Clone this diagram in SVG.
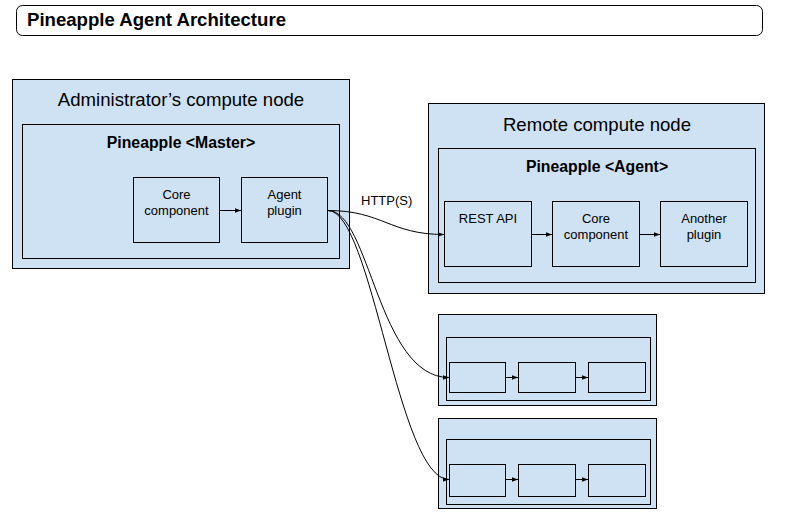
<svg xmlns="http://www.w3.org/2000/svg" width="786" height="521" viewBox="0 0 786 521">
<style>
.bg{fill:#ffffff}
.box{fill:#cfe2f3;stroke:#000000;stroke-width:1}
.title{fill:#ffffff;stroke:#000000;stroke-width:1}
.t{font-family:"Liberation Sans",Arial,sans-serif;fill:#000000;text-anchor:middle}
.big{font-size:18.6px}
.bold{font-size:15.8px;font-weight:bold}
.sm{font-size:13px}
.conn{fill:none;stroke:#000000;stroke-width:1}
</style>
<defs>
<marker id="ah" viewBox="0 0 6 6" refX="6" refY="3" markerWidth="6" markerHeight="6" markerUnits="userSpaceOnUse" orient="auto">
<path d="M0,0.8 L6,3 L0,5.2 Z" fill="#000000"/>
</marker>
</defs>
<rect class="bg" x="0" y="0" width="786" height="521"/>
<g id="title">
<rect class="title" x="16.5" y="5.5" width="746" height="30" rx="6" ry="6"/>
<text x="27" y="26" style="font-family:'Liberation Sans',Arial,sans-serif;font-size:18.6px;font-weight:bold" fill="#000000">Pineapple Agent Architecture</text>
</g>
<g id="admin-node">
<rect class="box" x="12.5" y="79.5" width="337" height="189"/>
<text class="t big" x="181" y="106">Administrator’s compute node</text>
</g>
<g id="master">
<rect class="box" x="22.5" y="124.5" width="317" height="134"/>
<text class="t bold" x="181" y="148">Pineapple &lt;Master&gt;</text>
</g>
<g id="master-core">
<rect class="box" x="133.5" y="177.5" width="86" height="65"/>
<text class="t sm" x="176.5" y="199">Core</text>
<text class="t sm" x="176.5" y="215">component</text>
</g>
<g id="agent-plugin">
<rect class="box" x="241.5" y="177.5" width="86" height="65"/>
<text class="t sm" x="284.5" y="199">Agent</text>
<text class="t sm" x="284.5" y="215">plugin</text>
</g>
<g id="remote-node">
<rect class="box" x="428.5" y="103.5" width="336" height="190"/>
<text class="t big" x="597" y="131">Remote compute node</text>
</g>
<g id="agent">
<rect class="box" x="438.5" y="148.5" width="317" height="134"/>
<text class="t bold" x="597" y="172">Pineapple &lt;Agent&gt;</text>
</g>
<g id="rest-api">
<rect class="box" x="444.5" y="201.5" width="87" height="65"/>
<text class="t sm" x="488" y="223">REST API</text>
</g>
<g id="agent-core">
<rect class="box" x="552.5" y="201.5" width="87" height="65"/>
<text class="t sm" x="596" y="223">Core</text>
<text class="t sm" x="596" y="239">component</text>
</g>
<g id="another-plugin">
<rect class="box" x="660.5" y="201.5" width="87" height="65"/>
<text class="t sm" x="704" y="223">Another</text>
<text class="t sm" x="704" y="239">plugin</text>
</g>
<g id="node2">
<rect class="box" x="438.5" y="314.5" width="218" height="91"/>
<rect class="box" x="446.5" y="337.5" width="204" height="63"/>
<rect class="box" x="449.5" y="362.5" width="56" height="30"/>
<rect class="box" x="518.5" y="362.5" width="57" height="30"/>
<rect class="box" x="588.5" y="362.5" width="57" height="30"/>
</g>
<g id="node3">
<rect class="box" x="438.5" y="418.5" width="218" height="90"/>
<rect class="box" x="446.5" y="439.5" width="204" height="65"/>
<rect class="box" x="449.5" y="464.5" width="56" height="32"/>
<rect class="box" x="518.5" y="464.5" width="57" height="32"/>
<rect class="box" x="588.5" y="464.5" width="57" height="32"/>
</g>
<g id="connectors">
<path class="conn" d="M220,210.5 L241,210.5" marker-end="url(#ah)"/>
<path class="conn" d="M532,234.5 L552,234.5" marker-end="url(#ah)"/>
<path class="conn" d="M640,234.5 L660,234.5" marker-end="url(#ah)"/>
<path class="conn" d="M506,377.5 L518,377.5" marker-end="url(#ah)"/>
<path class="conn" d="M576,377.5 L588,377.5" marker-end="url(#ah)"/>
<path class="conn" d="M506,479.5 L518,479.5" marker-end="url(#ah)"/>
<path class="conn" d="M576,479.5 L588,479.5" marker-end="url(#ah)"/>
<path class="conn" d="M328,210.5 C382,210.5 390,234.5 444,234.5" marker-end="url(#ah)"/>
<path class="conn" d="M328,210.5 C370,210.5 378,377.5 449,377.5" marker-end="url(#ah)"/>
<path class="conn" d="M328,210.5 C372,210.5 398,479.5 449,479.5" marker-end="url(#ah)"/>
<text x="361" y="205" style="font-family:'Liberation Sans',Arial,sans-serif;font-size:13px" fill="#000000">HTTP(S)</text>
</g>
</svg>
